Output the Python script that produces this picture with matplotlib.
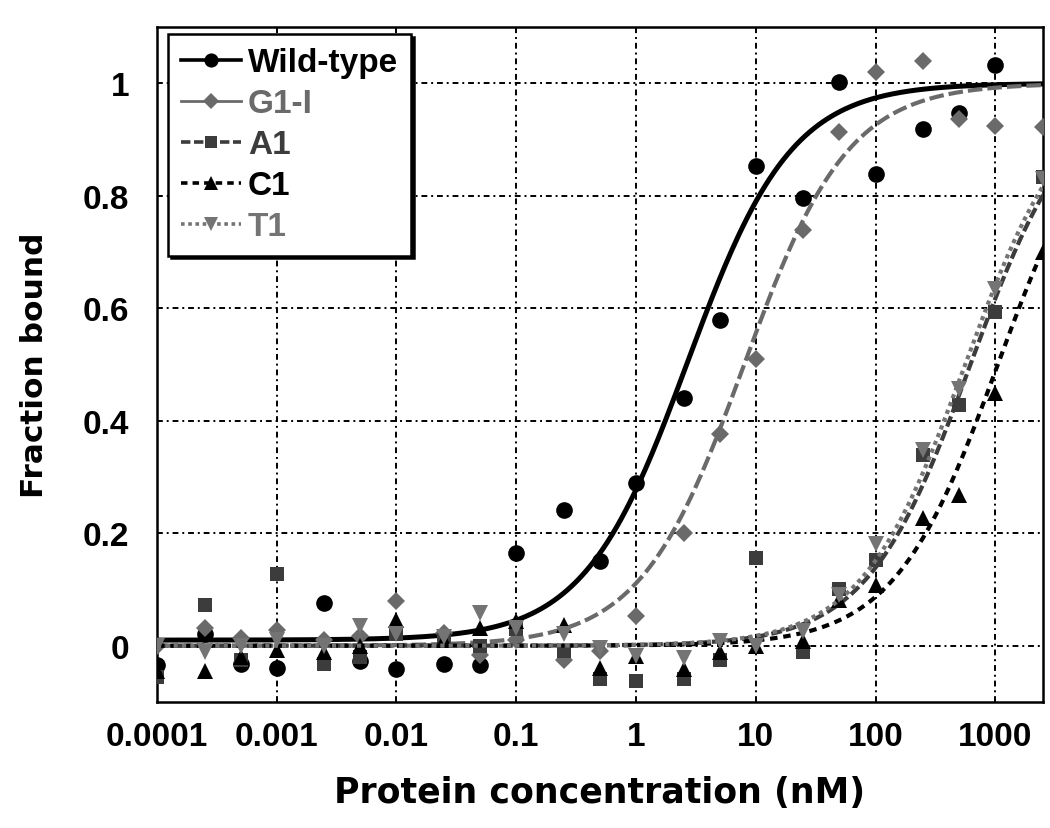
import numpy as np
import matplotlib
matplotlib.use("Agg")
import matplotlib.pyplot as plt

# protein concentrations (nM)
conc = [0.0001, 0.00025, 0.0005, 0.001, 0.0025, 0.005, 0.01, 0.025, 0.05, 0.1,
        0.25, 0.5, 1, 2.5, 5, 10, 25, 50, 100, 250, 500, 1000, 2500]

nan = np.nan
wild_type = [-0.035, 0.02, -0.033, -0.04, 0.076, -0.027, -0.042, -0.033, -0.035, 0.165,
             0.241, 0.15, 0.29, 0.44, 0.58, 0.853, 0.796, 1.003, 0.838, 0.918,
             0.948, 1.032, nan]
g1_i = [0.0, 0.032, 0.014, 0.028, 0.01, 0.018, 0.079, 0.023, -0.017, 0.011,
        -0.025, -0.01, 0.053, 0.2, 0.376, 0.51, 0.74, 0.913, 1.02, 1.04,
        0.936, 0.924, 0.922]
a1 = [-0.055, 0.073, -0.025, 0.127, -0.033, -0.02, 0.02, 0.01, 0.0, 0.03,
      -0.01, -0.06, -0.062, -0.06, -0.025, 0.156, -0.012, 0.1, 0.153, 0.339,
      0.428, 0.594, 0.833]
c1 = [-0.045, -0.045, -0.02, -0.007, -0.012, 0.0, 0.046, 0.01, 0.032, 0.044,
      0.037, -0.039, -0.018, -0.042, -0.012, 0.0, 0.009, 0.082, 0.108, 0.227,
      0.268, 0.449, 0.70]
t1 = [0.0, -0.012, 0.0, 0.01, 0.0, 0.035, 0.02, 0.015, 0.058, 0.032,
      0.02, -0.004, -0.018, -0.021, 0.009, 0.0, 0.026, 0.09, 0.18, 0.348,
      0.457, 0.635, 0.83]

labels = ["Wild-type", "G1-I", "A1", "C1", "T1"]

# fitted binding curves: Kd (nM), Hill coefficient, bottom, top
fit_kd = [2.7, 8.0, 620, 1050, 560]
fit_n = [1.0, 1.0, 1.0, 1.0, 1.0]
fit_bottom = [0.01, 0.0, 0.0, 0.0, 0.0]
fit_top = [1.0, 1.0, 1.0, 1.0, 1.0]

colors = ["#000000", "#6a6a6a", "#3c3c3c", "#000000", "#747474"]
markers = ["o", "D", "s", "^", "v"]
msizes = [12, 9.5, 10.5, 11.5, 11.5]
styles = ["-", (0, (3.5, 1.2)), (0, (2.6, 1.0)), (0, (1.8, 1.4)), (0, (1.0, 1.0))]
widths = [3.6, 3.0, 3.0, 3.0, 3.0]

series = [wild_type, g1_i, a1, c1, t1]

fig = plt.figure(figsize=(10.5, 8.29), dpi=100)
ax = fig.add_axes([0.1495, 0.152, 0.8438, 0.8142])

xs = np.logspace(-4, np.log10(2500), 400)
for i in range(5):
    y = fit_bottom[i] + (fit_top[i] - fit_bottom[i]) * xs ** fit_n[i] / (xs ** fit_n[i] + fit_kd[i] ** fit_n[i])
    ax.plot(xs, y, color=colors[i], linestyle=styles[i], lw=widths[i], zorder=3 + i * 0.2)
    ax.plot(conc, series[i], linestyle="none", marker=markers[i], ms=msizes[i],
            color=colors[i], mew=0, zorder=3.1 + i * 0.2)

# legend handles
handles = []
for i in range(5):
    h, = ax.plot([], [], color=colors[i], linestyle=styles[i] if i != 1 else "-",
                 lw=2.6 if i != 1 else 2.0, marker=markers[i], ms=msizes[i] * 0.85, mew=0)
    handles.append(h)
leg = ax.legend(handles, labels, loc="upper left", bbox_to_anchor=(0.0124, 0.9896),
                frameon=True, fancybox=False, shadow={"color": "black", "alpha": 1},
                numpoints=1, handlelength=1.8, handletextpad=0.2, labelspacing=0.3,
                borderpad=0.4, borderaxespad=0,
                prop={"family": "Liberation Sans", "weight": "bold", "size": 24})
leg.get_frame().set_edgecolor("black")
leg.get_frame().set_linewidth(1.8)
for txt, c in zip(leg.get_texts(), colors):
    txt.set_color(c)
leg.set_zorder(10)

ax.set_xscale("log")
ax.set_xlim(1e-4, 2500)
ax.set_ylim(-0.1, 1.1)
ax.set_xticks([1e-4, 1e-3, 1e-2, 1e-1, 1, 10, 100, 1000])
ax.set_xticklabels(["0.0001", "0.001", "0.01", "0.1", "1", "10", "100", "1000"])
ax.minorticks_off()
ax.set_yticks([0, 0.2, 0.4, 0.6, 0.8, 1.0])
ax.set_yticklabels(["0", "0.2", "0.4", "0.6", "0.8", "1"])

for lab in ax.get_xticklabels() + ax.get_yticklabels():
    lab.set_fontfamily("Liberation Sans")
    lab.set_fontweight("bold")
    lab.set_fontsize(24)
ax.tick_params(axis="both", direction="in", length=0, colors="black")
ax.tick_params(axis="x", pad=14)
ax.tick_params(axis="y", pad=20)

ax.grid(True, color="black", linestyle=(0, (3, 2, 1, 2)), lw=1.4, zorder=1)
ax.set_axisbelow(True)
for sp in ax.spines.values():
    sp.set_linewidth(1.8)
    sp.set_color("black")

ax.set_xlabel("Protein concentration (nM)", family="DejaVu Sans", weight="bold",
              size=25, labelpad=16)
ax.set_ylabel("Fraction bound", family="DejaVu Sans", weight="bold",
              size=22.5, labelpad=24)

fig.savefig("out.png", dpi=100)
